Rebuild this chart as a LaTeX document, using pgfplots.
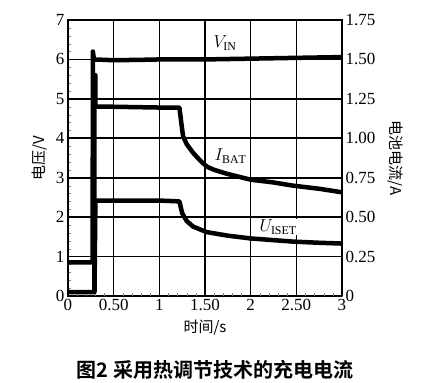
\documentclass[border=0pt]{standalone}
\usepackage{pgfplots}
\pgfplotsset{compat=1.18}
\usepackage{fontspec}
\setmainfont{Liberation Serif}
\newfontfamily\cjk{Noto Sans CJK SC}
\newfontfamily\cjkb{Noto Sans CJK SC Bold}
\begin{document}
\begin{tikzpicture}
\begin{axis}[
  at={(0pt,0pt)}, anchor=south west,
  scale only axis, width=274pt, height=276pt,
  xmin=0, xmax=3, ymin=0, ymax=7,
  ytick pos=left, xtick pos=bottom,
  xtick={0,0.5,1,1.5,2,2.5,3},
  xticklabels={0,0.50,1,1.50,2,2.50,3},
  ytick={0,1,...,7},
  minor x tick num=4, minor y tick num=4,
  tick align=inside,
  major tick length=0.1pt, minor tick length=3pt,
  axis background/.style={draw=black, line width=1.6pt},
  /pgf/number format/assume math mode=true,
  tick label style={font=\fontsize{17}{17}\selectfont},
  xlabel={\cjk 时间/s}, xlabel style={font=\fontsize{15}{15}\selectfont, yshift=-2pt},
  ylabel={\cjk 电压/V}, ylabel style={font=\fontsize{15}{15}\selectfont, yshift=2pt},
]
% grid lines
\addplot[black, line width=1.6pt, forget plot] coordinates {(0.5,0) (0.5,7)};
\addplot[black, line width=1.6pt, forget plot] coordinates {(1,0) (1,7)};
\addplot[black, line width=1.6pt, forget plot] coordinates {(1.5,0) (1.5,7)};
\addplot[black, line width=1.6pt, forget plot] coordinates {(2,0) (2,7)};
\addplot[black, line width=1.6pt, forget plot] coordinates {(2.5,0) (2.5,7)};
\addplot[black, line width=1.6pt, forget plot] coordinates {(0,1) (3,1)};
\addplot[black, line width=1.6pt, forget plot] coordinates {(0,2) (3,2)};
\addplot[black, line width=1.6pt, forget plot] coordinates {(0,3) (3,3)};
\addplot[black, line width=1.6pt, forget plot] coordinates {(0,4) (3,4)};
\addplot[black, line width=1.6pt, forget plot] coordinates {(0,5) (3,5)};
\addplot[black, line width=1.6pt, forget plot] coordinates {(0,6) (3,6)};
% V_IN
\addplot[black, line width=4.5pt, line join=round] coordinates {
 (0,0.85) (0.27,0.85) (0.272,6.2) (0.285,6.0) (0.5,5.98) (0.8,5.99) (1.0,6.0) (1.5,6.0) (2.0,6.02) (2.5,6.04) (3.0,6.06)
};
% I_BAT
\addplot[black, line width=4.5pt, line join=round] coordinates {
 (0.29,0.1) (0.29,5.6) (0.30,5.6) (0.30,4.8) (0.5,4.8) (1.0,4.78) (1.22,4.78) (1.24,4.4) (1.26,4.05) (1.3,3.85) (1.37,3.63) (1.45,3.43) (1.52,3.28) (1.6,3.2) (1.74,3.1) (2.0,2.95) (2.25,2.88) (2.46,2.8) (2.75,2.72) (3.0,2.63)
};
% U_ISET
\addplot[black, line width=4.5pt, line join=round] coordinates {
 (0,0.1) (0.29,0.1) (0.30,2.42) (0.6,2.42) (1.0,2.42) (1.22,2.4) (1.25,2.1) (1.3,1.9) (1.37,1.76) (1.52,1.62) (1.75,1.53) (2.0,1.46) (2.46,1.38) (2.75,1.35) (3.0,1.33)
};
\node[fill=white, inner sep=1pt, font=\fontsize{17}{17}\selectfont] at (axis cs:1.72,6.42) {$V_{\mathrm{IN}}$};
\node[fill=white, inner sep=1pt, font=\fontsize{17}{17}\selectfont] at (axis cs:1.78,3.55) {$I_{\mathrm{BAT}}$};
\node[fill=white, inner sep=1pt, font=\fontsize{17}{17}\selectfont] at (axis cs:2.3,1.75) {$U_{\mathrm{ISET}}$};
\end{axis}
\begin{axis}[
  at={(0pt,0pt)}, anchor=south west,
  scale only axis, width=274pt, height=276pt,
  xmin=0, xmax=3, ymin=0, ymax=1.75,
  axis x line=none, axis y line*=right,
  ytick={0,0.25,0.5,0.75,1,1.25,1.5,1.75},
  yticklabels={0,0.25,0.50,0.75,1.00,1.25,1.50,1.75},
  major tick length=0.1pt,
  /pgf/number format/assume math mode=true,
  tick label style={font=\fontsize{17}{17}\selectfont},
  ylabel={\cjk 电池电流/A}, ylabel style={font=\fontsize{15}{15}\selectfont, rotate=180},
  ylabel shift=6pt,
]
\addplot[draw=none] coordinates {(0,0) (3,1.75)};
\end{axis}
\node[font=\fontsize{20}{20}\cjkb] at (147pt,-74pt) {图2\ 采用热调节技术的充电电流};
\path (-68pt,-87pt) rectangle (361pt,296pt);
\end{tikzpicture}
\end{document}
